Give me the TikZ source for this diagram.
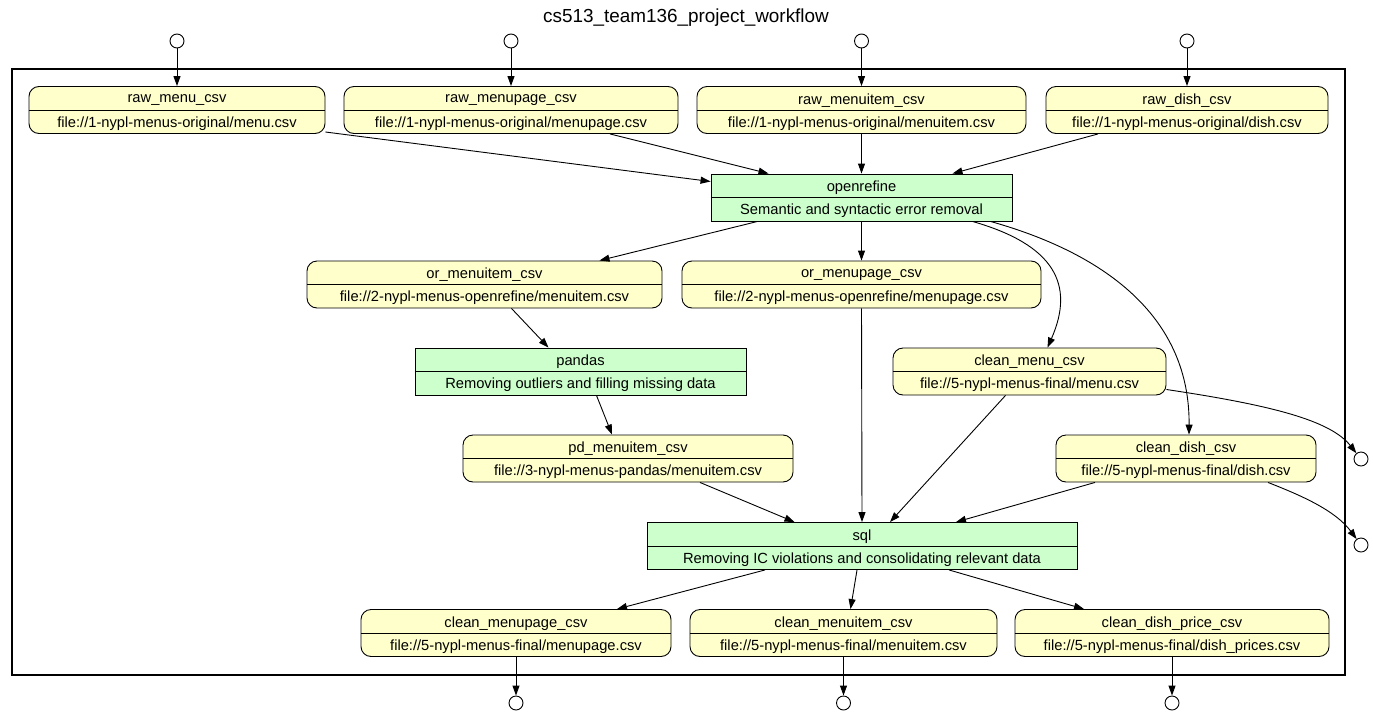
\documentclass[tikz,border=0pt]{standalone}
\usepackage{fontspec}
\setmainfont{Liberation Sans}
\usetikzlibrary{arrows.meta,calc}
\definecolor{datafill}{HTML}{FFFFCC}
\definecolor{progfill}{HTML}{CCFFCC}
\newcommand\wfbox[7]{%
  \node[#1, minimum width=#5pt] (#2) at (#3,#4) {};
  \draw[line width=0.9pt] (#2.west) -- (#2.east);
  \node[lbl] (#2-t) at ([yshift=9.5pt]#2.center) {#6};
  \node[lbl] (#2-b) at ([yshift=-13.5pt]#2.center) {#7};}
\begin{document}
\begin{tikzpicture}[x=1pt,y=-1pt,
  dat/.style={draw, line width=0.9pt, fill=datafill, rounded corners=10pt, minimum height=47pt, inner sep=0pt},
  prog/.style={draw, line width=0.9pt, fill=progfill, minimum height=47pt, inner sep=0pt},
  lbl/.style={inner sep=0pt, font=\fontsize{14.7}{17}\selectfont},
  port/.style={draw, line width=0.9pt, fill=white, circle, minimum size=14pt, inner sep=0pt},
  arr/.style={line width=0.9pt, -{Triangle[length=10pt,width=7pt]}}]
\useasboundingbox (0,0) rectangle (1373,715);
\node[font=\fontsize{18.9}{22}\selectfont, inner sep=0pt] (title) at (686,18) {cs513\_team136\_project\_workflow};
\draw[line width=2pt] (12,69) rectangle (1345,675);
% nodes
\wfbox{dat}{rmenu}{177}{110}{296}{raw\_menu\_csv}{file://1-nypl-menus-original/menu.csv}
\wfbox{dat}{rmenupage}{511}{110}{334}{raw\_menupage\_csv}{file://1-nypl-menus-original/menupage.csv}
\wfbox{dat}{rmenuitem}{861.5}{110}{329}{raw\_menuitem\_csv}{file://1-nypl-menus-original/menuitem.csv}
\wfbox{dat}{rdish}{1187}{110}{282}{raw\_dish\_csv}{file://1-nypl-menus-original/dish.csv}
\wfbox{prog}{openrefine}{861.5}{197.5}{301}{openrefine}{Semantic and syntactic error removal}
\wfbox{dat}{ormenuitem}{484.5}{284.5}{355}{or\_menuitem\_csv}{file://2-nypl-menus-openrefine/menuitem.csv}
\wfbox{dat}{ormenupage}{861.5}{284.5}{359}{or\_menupage\_csv}{file://2-nypl-menus-openrefine/menupage.csv}
\wfbox{prog}{pandas}{580.5}{371.5}{331}{pandas}{Removing outliers and filling missing data}
\wfbox{dat}{cleanmenu}{1029.5}{371.5}{273}{clean\_menu\_csv}{file://5-nypl-menus-final/menu.csv}
\wfbox{dat}{pdmenuitem}{628}{458.5}{330}{pd\_menuitem\_csv}{file://3-nypl-menus-pandas/menuitem.csv}
\wfbox{dat}{cleandish}{1186}{458.5}{260}{clean\_dish\_csv}{file://5-nypl-menus-final/dish.csv}
\wfbox{prog}{sql}{862}{546}{430}{sql}{Removing IC violations and consolidating relevant data}
\wfbox{dat}{cmenupage}{516}{633}{310}{clean\_menupage\_csv}{file://5-nypl-menus-final/menupage.csv}
\wfbox{dat}{cmenuitem}{843.5}{633}{307}{clean\_menuitem\_csv}{file://5-nypl-menus-final/menuitem.csv}
\wfbox{dat}{cdishprice}{1172}{633}{314}{clean\_dish\_price\_csv}{file://5-nypl-menus-final/dish\_prices.csv}
% ports
\node[port] (in1) at (177,41) {};
\node[port] (in2) at (511,41) {};
\node[port] (in3) at (861.5,41) {};
\node[port] (in4) at (1187,41) {};
\node[port] (out1) at (1361,459) {};
\node[port] (out2) at (1361,545) {};
\node[port] (out3) at (516,703) {};
\node[port] (out4) at (843.5,703) {};
\node[port] (out5) at (1172,703) {};
% edges
\draw[arr] (in1) -- (rmenu.north);
\draw[arr] (in2) -- (rmenupage.north);
\draw[arr] (in3) -- (rmenuitem.north);
\draw[arr] (in4) -- (rdish.north);
\draw[arr] ([yshift=-22pt]rmenu.east) -- ([yshift=16pt]openrefine.west);
\draw[arr] ([xshift=99pt]rmenupage.south) -- ([xshift=-93pt]openrefine.north);
\draw[arr] (rmenuitem.south) -- (openrefine.north);
\draw[arr] ([xshift=-89pt]rdish.south) -- ([xshift=91pt]openrefine.north);
\draw[arr] ([xshift=-104pt]openrefine.south) -- ([xshift=115pt]ormenuitem.north);
\draw[arr] (openrefine.south) -- (ormenupage.north);
\draw[arr] ([xshift=111pt]openrefine.south) .. controls (1055,245) and (1075,285) .. ([xshift=18pt]cleanmenu.north);
\draw[arr] ([xshift=129pt]openrefine.south) .. controls (1110,255) and (1190,320) .. ([xshift=3pt]cleandish.north);
\draw[arr] ([xshift=27pt]ormenuitem.south) -- ([xshift=-32pt]pandas.north);
\draw[arr] ([xshift=16pt]pandas.south) -- ([xshift=-16pt]pdmenuitem.north);
\draw[arr] (ormenupage.south) -- (sql.north);
\draw[arr] ([xshift=-24pt]cleanmenu.south) -- ([xshift=28pt]sql.north);
\draw[arr] ([xshift=72pt]pdmenuitem.south) -- ([xshift=-67.5pt]sql.north);
\draw[arr] ([xshift=-91pt]cleandish.south) -- ([xshift=94pt]sql.north);
\draw[arr] ([yshift=-18pt]cleanmenu.east) .. controls (1270,405) and (1330,420) .. (out1);
\draw[arr] ([xshift=82pt]cleandish.south) .. controls (1300,495) and (1335,510) .. (out2);
\draw[arr] ([xshift=-97pt]sql.south) -- ([xshift=101pt]cmenupage.north);
\draw[arr] ([xshift=-5pt]sql.south) -- ([xshift=7pt]cmenuitem.north);
\draw[arr] ([xshift=87pt]sql.south) -- ([xshift=-88pt]cdishprice.north);
\draw[arr] (cmenupage.south) -- (out3);
\draw[arr] (cmenuitem.south) -- (out4);
\draw[arr] (cdishprice.south) -- (out5);
\end{tikzpicture}
\end{document}
